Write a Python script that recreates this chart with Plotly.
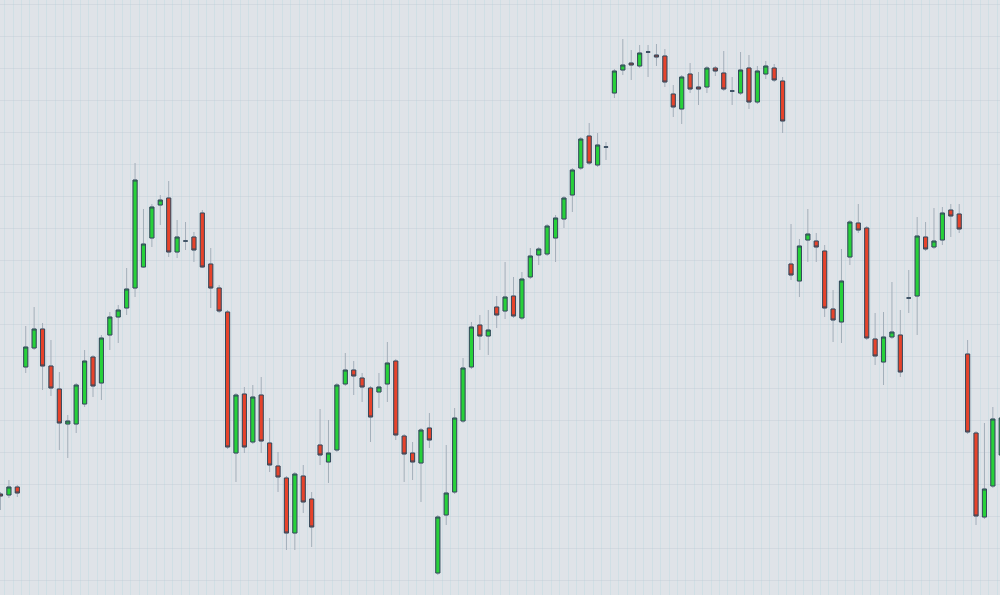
import plotly.graph_objects as go

# Candle index (time slots) and OHLC values (arbitrary price units)
idx = list(range(120))

open_ = [106, 105, 113, 233, 252, 271, 234, 211, 176, 176,
         196, 243, 217, 265, 283, 292, 312, 333, 362, 395,
         402, 348, 359, 363, 387, 336, 312, 288, 147, 206,
         158, 205, 157, 134, 122, 67, 124, 101, 155, 138,
         150, 216, 230, 222, 212, 208, 216, 239, 164, 147,
         137, 172, 27, 85, 108, 179, 233, 275, 264, 293,
         289, 304, 282, 323, 345, 346, 362, 381, 405, 432,
         464, 435, 453, 507, 530, 537, 534, 548, 545, 544,
         506, 491, 526, 513, 513, 532, 527, 509, 507, 532,
         498, 526, 532, 519, 336, 319, 360, 359, 349, 291,
         278, 343, 377, 372, 261, 238, 263, 265, 302, 304,
         363, 353, 360, 390, 386, 246, 167, 83, 114, 145]

high = [108, 120, 115, 274, 293, 277, 260, 228, 185, 217,
        250, 245, 265, 288, 295, 332, 437, 391, 396, 405,
        419, 380, 378, 368, 390, 352, 315, 290, 207, 213,
        215, 223, 182, 148, 124, 128, 135, 108, 191, 180,
        217, 247, 239, 227, 214, 227, 258, 241, 166, 158,
        172, 187, 85, 155, 192, 242, 278, 285, 290, 304,
        338, 323, 328, 352, 353, 376, 385, 404, 432, 463,
        477, 467, 458, 531, 561, 550, 555, 555, 556, 551,
        515, 525, 537, 528, 534, 534, 549, 523, 548, 545,
        534, 539, 536, 523, 376, 361, 391, 367, 355, 310,
        351, 380, 396, 374, 287, 288, 318, 290, 330, 383,
        378, 392, 393, 396, 396, 260, 169, 177, 193, 190]

low = [90, 102, 103, 227, 250, 210, 204, 150, 142, 167,
       193, 203, 200, 250, 257, 285, 303, 332, 353, 375,
       343, 342, 350, 338, 332, 292, 287, 151, 118, 147,
       156, 147, 128, 108, 50, 50, 87, 53, 135, 117,
       148, 214, 205, 198, 158, 192, 198, 160, 118, 120,
       98, 152, 25, 75, 106, 177, 231, 250, 245, 272,
       281, 282, 280, 321, 335, 344, 338, 372, 388, 430,
       435, 433, 440, 502, 525, 520, 532, 523, 534, 513,
       483, 476, 507, 495, 507, 524, 509, 495, 505, 491,
       496, 521, 518, 467, 320, 303, 338, 338, 283, 258,
       257, 335, 367, 260, 235, 215, 261, 223, 287, 265,
       349, 351, 355, 363, 367, 166, 75, 81, 112, 143]

close = [104, 113, 107, 253, 271, 234, 212, 177, 179, 215,
         239, 214, 262, 283, 290, 311, 420, 356, 393, 400,
         348, 363, 359, 350, 333, 312, 289, 153, 205, 153,
         203, 159, 135, 123, 67, 126, 98, 73, 145, 147,
         215, 230, 224, 213, 183, 213, 237, 165, 146, 138,
         170, 160, 83, 107, 182, 232, 273, 264, 270, 285,
         303, 284, 321, 344, 351, 374, 382, 402, 430, 461,
         437, 455, 453, 529, 535, 535, 547, 548, 543, 518,
         493, 523, 511, 511, 532, 529, 511, 509, 530, 498,
         529, 534, 520, 479, 325, 354, 366, 353, 292, 280,
         319, 378, 370, 262, 244, 263, 268, 228, 302, 364,
         351, 359, 387, 384, 371, 168, 84, 111, 181, 182]

GREEN = "#27d13a"
RED = "#e6432b"
WICK = "#a3afba"
EDGE = "#34495c"
BG = "#dfe3e8"

body_hi = [max(o, c) for o, c in zip(open_, close)]
body_lo = [min(o, c) for o, c in zip(open_, close)]

fig = go.Figure()

# wicks (full high-low range, light grey)
fig.add_trace(go.Candlestick(
    x=idx, open=open_, high=high, low=low, close=close,
    increasing=dict(line=dict(color=WICK, width=1), fillcolor="rgba(0,0,0,0)"),
    decreasing=dict(line=dict(color=WICK, width=1), fillcolor="rgba(0,0,0,0)"),
    hoverinfo="skip", showlegend=False,
))

# bodies with dark outline, drawn on top of wicks
fig.add_trace(go.Candlestick(
    x=idx, open=open_, high=body_hi, low=body_lo, close=close,
    increasing=dict(line=dict(color=EDGE, width=1), fillcolor=GREEN),
    decreasing=dict(line=dict(color=EDGE, width=1), fillcolor=RED),
    showlegend=False,
))

fig.update_layout(
    width=1000, height=595,
    margin=dict(l=0, r=0, t=0, b=0),
    paper_bgcolor=BG, plot_bgcolor=BG,
    showlegend=False,
    boxgap=0.3,
    xaxis=dict(
        range=[-0.06, 118.85],
        rangeslider=dict(visible=False),
        showticklabels=False, zeroline=False,
        showgrid=True, gridcolor="rgba(170,212,224,0.28)", gridwidth=1,
        tick0=0.5, dtick=1,
    ),
    yaxis=dict(
        range=[5, 600],
        showticklabels=False, zeroline=False,
        showgrid=True, gridcolor="rgba(190,198,208,0.35)", gridwidth=1,
        tick0=20, dtick=32,
    ),
)

fig.write_html("out.html", config={"displayModeBar": False},
               post_script="document.body.style.margin='0';")
